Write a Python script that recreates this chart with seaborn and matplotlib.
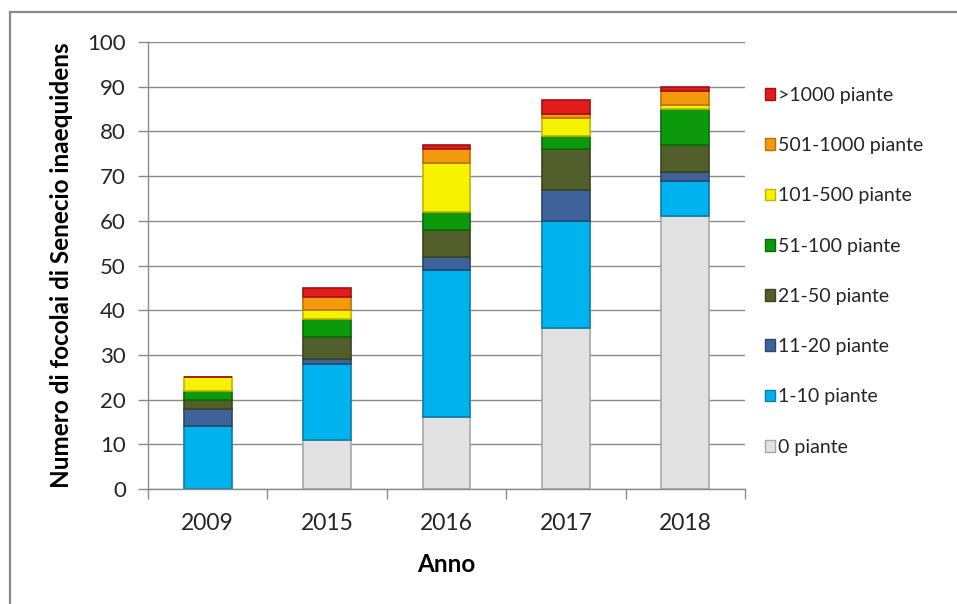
import numpy as np
import pandas as pd
import matplotlib
matplotlib.use("Agg")
import matplotlib.pyplot as plt
from matplotlib.lines import Line2D
from matplotlib.patches import Patch
import seaborn as sns

# Survey years and outbreak counts per plant-density class
anni = ["2009", "2015", "2016", "2017", "2018"]
classi = ["0 piante", "1-10 piante", "11-20 piante", "21-50 piante",
          "51-100 piante", "101-500 piante", "501-1000 piante", ">1000 piante"]
piante_0 = [0, 11, 16, 36, 61]
piante_1_10 = [14, 17, 33, 24, 8]
piante_11_20 = [4, 1, 3, 7, 2]
piante_21_50 = [2, 5, 6, 9, 6]
piante_51_100 = [2, 4, 4, 3, 8]
piante_101_500 = [3, 2, 11, 4, 1]
piante_501_1000 = [0, 3, 3, 1, 3]
piante_oltre_1000 = [0, 2, 1, 3, 1]

serie = [piante_0, piante_1_10, piante_11_20, piante_21_50,
         piante_51_100, piante_101_500, piante_501_1000, piante_oltre_1000]
colori = ["#E2E2E2", "#00B2EE", "#3E639A", "#525F2B",
          "#0C9A0C", "#F6F200", "#F29A0C", "#E31B1B"]
bordi = ["#A8A8A8", "#0A7DAE", "#2A4670", "#394420",
         "#076A07", "#C2B400", "#BC7000", "#A01212"]

sns.set_theme(style="white")
plt.rcParams["font.family"] = ["Lato", "DejaVu Sans"]

fig = plt.figure(figsize=(9.57, 6.04), dpi=100)
ax = fig.add_axes([148 / 957, (604 - 489) / 604, 597 / 957, 447 / 604])

grigio = "#8A8A8A"
testo = "#262626"
ax.set_axisbelow(True)
ax.yaxis.grid(True, color=grigio, linewidth=1.0)

base = np.zeros(len(anni))
for valori, col, bordo in zip(serie, colori, bordi):
    df = pd.DataFrame({"Anno": anni, "n": valori})
    sns.barplot(data=df, x="Anno", y="n", order=anni, color=col,
                width=0.4, bottom=base.copy(), errorbar=None,
                edgecolor=bordo, linewidth=1.2, saturation=1, ax=ax)
    base = base + np.array(valori, dtype=float)

ax.set_ylim(0, 100)
ax.set_xlim(-0.5, len(anni) - 0.5)
ax.set_yticks(np.arange(0, 101, 10))

ax.set_xlabel("Anno", fontsize=17.5, fontweight="bold", labelpad=14,
              color="black")
ax.set_ylabel("Numero di focolai di Senecio inaequidens", fontsize=17.5,
              fontweight="bold", labelpad=10, color="black")

ax.tick_params(axis="y", which="major", length=7, width=1, color=grigio,
               labelsize=16, labelcolor=testo, pad=9, left=True)
ax.tick_params(axis="x", which="major", length=0, labelsize=16.5,
               labelcolor=testo, pad=17)
ax.set_xticks(np.arange(-0.5, len(anni), 1.0), minor=True)
ax.tick_params(axis="x", which="minor", length=7, width=1, color=grigio,
               bottom=True)

for lato in ["top", "right"]:
    ax.spines[lato].set_visible(False)
for lato in ["left", "bottom"]:
    ax.spines[lato].set_color(grigio)
    ax.spines[lato].set_linewidth(1.0)

maniglie = [Patch(facecolor=c, edgecolor=b, linewidth=1.0, label=l)
            for c, b, l in zip(colori, bordi, classi)][::-1]
ax.legend(handles=maniglie, loc="upper left",
          bbox_to_anchor=(757 / 957, (604 - 79) / 604),
          bbox_transform=fig.transFigure, frameon=False,
          fontsize=14, handlelength=0.55, handleheight=0.55,
          handletextpad=0.15, labelspacing=1.71, borderaxespad=0,
          labelcolor=testo)

# Chart area frame (top and left edges)
x0, y0 = 9.5 / 957, 1 - 11.5 / 604
fig.add_artist(Line2D([x0, 1.0], [y0, y0], transform=fig.transFigure,
                      color=grigio, linewidth=1.6))
fig.add_artist(Line2D([x0, x0], [0.0, y0], transform=fig.transFigure,
                      color=grigio, linewidth=1.6))

fig.savefig("out.png", dpi=100)
